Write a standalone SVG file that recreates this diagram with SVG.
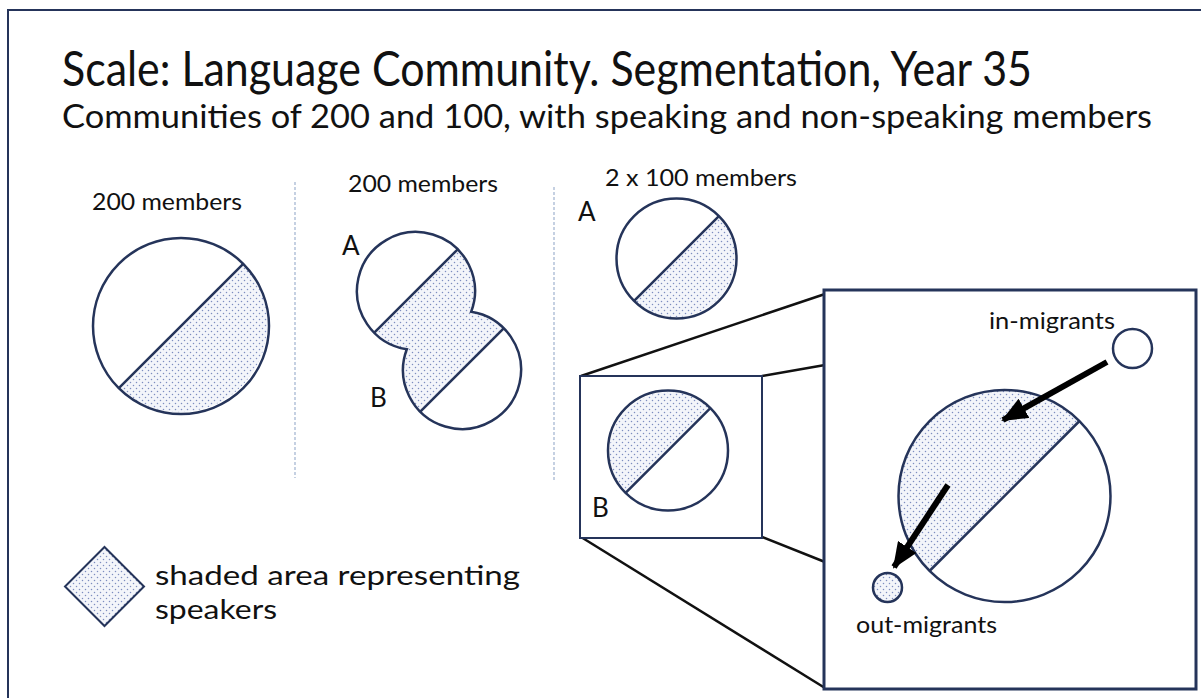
<svg xmlns="http://www.w3.org/2000/svg" width="1201" height="698" viewBox="0 0 1201 698">
<style>
text{font-family:Lato,"Open Sans","Liberation Sans",sans-serif;fill:#111}
.ol{fill:none;stroke:#25345a;stroke-width:2.5}
.ch{stroke:#25345a;stroke-width:2.5}
.sh{fill:url(#dots)}
.dash{stroke:#9fb2cf;stroke-width:1.2;stroke-dasharray:3 2}
.conn{stroke:#111;stroke-width:2.5;fill:none}
.arr{stroke:#000;stroke-width:6;marker-end:url(#ah)}
</style>
<defs>
<pattern id="dots" width="6" height="6" patternUnits="userSpaceOnUse">
<rect width="6" height="6" fill="#f3f5fa"/>
<circle cx="1.5" cy="1.5" r="0.75" fill="#7d8dc0"/>
<circle cx="4.5" cy="4.5" r="0.75" fill="#7d8dc0"/>
</pattern>
<marker id="ah" markerUnits="userSpaceOnUse" markerWidth="26" markerHeight="22" refX="24" refY="11" orient="auto">
<path d="M0,0 L26,11 L0,22 Z" fill="#000"/>
</marker>
<clipPath id="strip"><polygon points="300,407 600,107 600,232 300,532"/></clipPath>
</defs>
<rect x="8" y="10" width="1200" height="700" fill="#fff" stroke="#25345a" stroke-width="2"/>
<g id="title">
<text x="62" y="86" font-size="48" textLength="970" lengthAdjust="spacingAndGlyphs">Scale: Language Community. Segmentation, Year 35</text>
<text x="62" y="128" font-size="32" textLength="1090" lengthAdjust="spacingAndGlyphs">Communities of 200 and 100, with speaking and non-speaking members</text>
</g>
<g id="dividers">
<line class="dash" x1="295" y1="182" x2="295" y2="478"/>
<line class="dash" x1="554" y1="187" x2="554" y2="480"/>
</g>
<g id="community-200">
<text x="92" y="210" font-size="23" textLength="150" lengthAdjust="spacingAndGlyphs">200 members</text>
<path class="sh" d="M243.2,263.8 A88,88 0 0 1 118.8,388.2 Z"/>
<circle class="ol" cx="181" cy="326" r="88"/>
<line class="ch" x1="243.2" y1="263.8" x2="118.8" y2="388.2"/>
</g>
<g id="community-200-split">
<text x="348" y="192" font-size="23" textLength="150" lengthAdjust="spacingAndGlyphs">200 members</text>
<g clip-path="url(#strip)" class="sh"><circle cx="416" cy="291" r="59"/><circle cx="462" cy="370" r="59"/></g>
<path class="ol" stroke="#3c4a6a" stroke-width="2" d="M471.2,311.7 A59,59 0 1 0 406.8,349.3 A59,59 0 1 0 471.2,311.7 Z"/>
<line class="ch" stroke-width="2" x1="457.7" y1="249.3" x2="374.3" y2="332.7"/>
<line class="ch" stroke="#2d4a80" stroke-width="3" x1="503.7" y1="328.3" x2="420.3" y2="411.7"/>
<text x="342" y="255" font-size="26">A</text>
<text x="370" y="407" font-size="26">B</text>
</g>
<g id="community-100-A">
<text x="605" y="186" font-size="23" textLength="192" lengthAdjust="spacingAndGlyphs">2 x 100 members</text>
<text x="578" y="221" font-size="26">A</text>
<path class="sh" d="M718.9,216.1 A60,60 0 0 1 634.1,300.9 Z"/>
<circle class="ol" cx="676.5" cy="258.5" r="60"/>
<line class="ch" x1="718.9" y1="216.1" x2="634.1" y2="300.9"/>
</g>
<g id="connectors">
<line class="conn" x1="581" y1="376" x2="825" y2="294"/>
<line class="conn" x1="762" y1="376" x2="825" y2="365"/>
<line class="conn" x1="762" y1="537" x2="825" y2="562"/>
<line class="conn" x1="581" y1="537" x2="825" y2="688"/>
</g>
<g id="community-100-B">
<rect x="580" y="376" width="182" height="162" fill="#fff" stroke="#25345a" stroke-width="2"/>
<path class="sh" d="M625.6,492.9 A60,60 0 0 1 710.4,408.1 Z"/>
<circle class="ol" cx="668" cy="450.5" r="60"/>
<line class="ch" x1="710.4" y1="408.1" x2="625.6" y2="492.9"/>
<text x="592" y="517" font-size="26">B</text>
</g>
<g id="zoom-box">
<rect x="824" y="290" width="372" height="399" fill="#fff" stroke="#25345a" stroke-width="3"/>
<path class="sh" d="M929.5,571 A106,106 0 0 1 1079.5,421 Z"/>
<circle class="ol" cx="1004.5" cy="496" r="106"/>
<line class="ch" stroke-width="2" x1="1079.5" y1="421" x2="929.5" y2="571"/>
</g>
<g id="in-migrants">
<circle class="ol" stroke-width="2" cx="1132.5" cy="348.5" r="19.5" fill="#fff"/>
<text x="989" y="329" font-size="23" textLength="126" lengthAdjust="spacingAndGlyphs">in-migrants</text>
</g>
<g id="out-migrants">
<circle class="sh" cx="887.5" cy="587.5" r="14.5"/>
<circle class="ol" stroke-width="2" cx="887.5" cy="587.5" r="14.5"/>
<text x="856" y="633" font-size="23" textLength="141" lengthAdjust="spacingAndGlyphs">out-migrants</text>
</g>
<g id="arrows">
<line class="arr" x1="1107" y1="362" x2="1003" y2="420"/>
<line class="arr" x1="948" y1="485" x2="894" y2="567"/>
</g>
<g id="legend">
<polygon class="sh" points="104.5,547 144,586.5 104.5,626 65,586.5" stroke="#25345a" stroke-width="2"/>
<text x="155" y="585" font-size="27" textLength="365" lengthAdjust="spacingAndGlyphs">shaded area representing</text>
<text x="155" y="619" font-size="27" textLength="122" lengthAdjust="spacingAndGlyphs">speakers</text>
</g>
</svg>
